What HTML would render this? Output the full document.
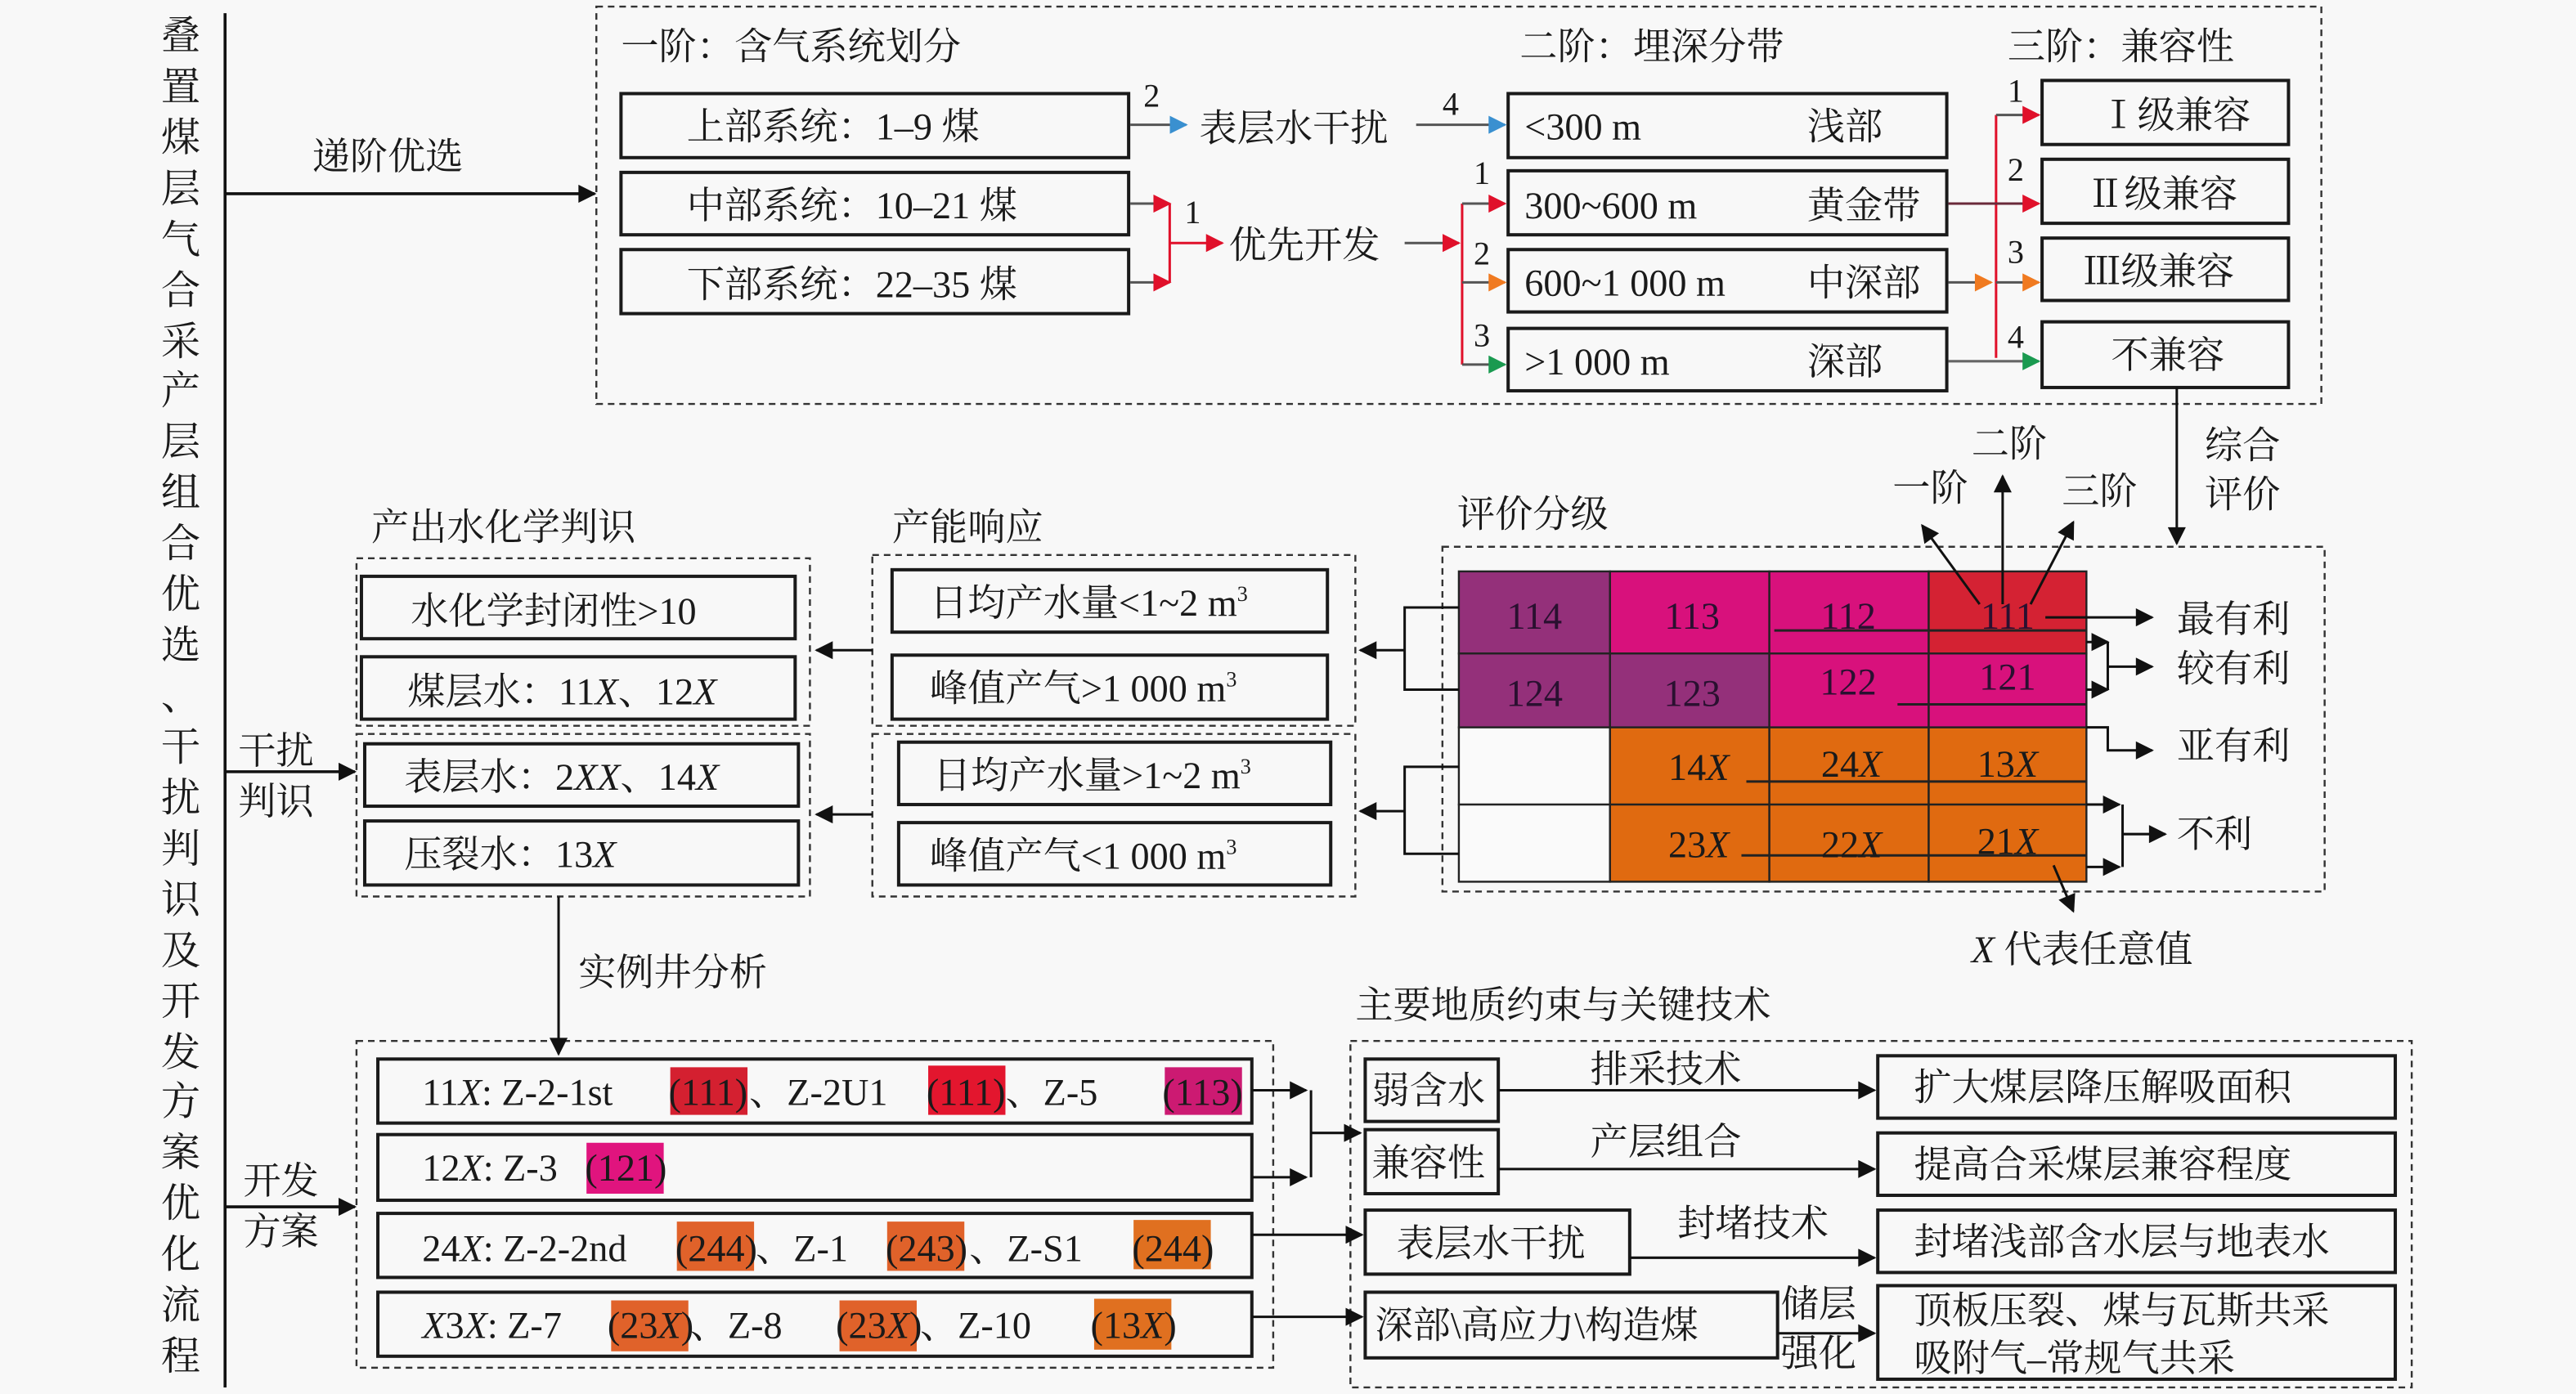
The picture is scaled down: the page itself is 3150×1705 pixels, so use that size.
<!DOCTYPE html>
<html><head><meta charset="utf-8"><style>
html,body{margin:0;padding:0;background:#f8f8f8}
svg{display:block}
text{font-family:"Liberation Serif","Noto Serif CJK SC",serif;fill:#1a1a1a}
</style></head><body>
<svg width="3150" height="1705" viewBox="0 0 1568 849" preserveAspectRatio="none" xmlns="http://www.w3.org/2000/svg">
<defs>
<marker id="kb" viewBox="0 0 10 10" refX="9" refY="5" markerWidth="13" markerHeight="11" orient="auto" markerUnits="userSpaceOnUse"><path d="M0,0L10,5L0,10z" fill="#111"/></marker>
<marker id="r" viewBox="0 0 10 10" refX="9" refY="5" markerWidth="12" markerHeight="11" orient="auto" markerUnits="userSpaceOnUse"><path d="M0,0L10,5L0,10z" fill="#e0102a"/></marker>
<marker id="o" viewBox="0 0 10 10" refX="9" refY="5" markerWidth="12" markerHeight="11" orient="auto" markerUnits="userSpaceOnUse"><path d="M0,0L10,5L0,10z" fill="#f07a20"/></marker>
<marker id="g" viewBox="0 0 10 10" refX="9" refY="5" markerWidth="12" markerHeight="11" orient="auto" markerUnits="userSpaceOnUse"><path d="M0,0L10,5L0,10z" fill="#1a9a50"/></marker>
<marker id="b" viewBox="0 0 10 10" refX="9" refY="5" markerWidth="12" markerHeight="11" orient="auto" markerUnits="userSpaceOnUse"><path d="M0,0L10,5L0,10z" fill="#3a90d0"/></marker>
</defs>
<rect width="1568" height="849" fill="#f8f8f8"/>

<g font-size="24" text-anchor="middle">
<text x="110" y="30">叠</text><text x="110" y="61">置</text><text x="110" y="92">煤</text><text x="110" y="123">层</text><text x="110" y="154">气</text><text x="110" y="185">合</text><text x="110" y="216">采</text><text x="110" y="246">产</text><text x="110" y="277">层</text><text x="110" y="308">组</text><text x="110" y="339">合</text><text x="110" y="370">优</text><text x="110" y="401">选</text><text x="110" y="432">、</text><text x="110" y="463">干</text><text x="110" y="494">扰</text><text x="110" y="525">判</text><text x="110" y="556">识</text><text x="110" y="587">及</text><text x="110" y="618">开</text><text x="110" y="649">发</text><text x="110" y="679">方</text><text x="110" y="710">案</text><text x="110" y="741">优</text><text x="110" y="772">化</text><text x="110" y="803">流</text><text x="110" y="834">程</text>
</g>
<g stroke="#111" stroke-width="1.8" fill="none">
<line x1="137" y1="8" x2="137" y2="845"/>
<line x1="137" y1="118" x2="362" y2="118" marker-end="url(#kb)"/>
<line x1="137" y1="470" x2="216" y2="470" marker-end="url(#kb)"/>
<line x1="137" y1="735" x2="216" y2="735" marker-end="url(#kb)"/>
</g>
<g font-size="23">
<text x="190" y="103">递阶优选</text>
<text x="145" y="465">干扰</text><text x="145" y="496">判识</text>
<text x="148" y="727">开发</text><text x="148" y="758">方案</text>
</g>

<g fill="none" stroke="#333" stroke-width="1.2" stroke-dasharray="4,3">
<rect x="363" y="4" width="1050" height="242"/>
<rect x="878" y="333" width="537" height="210"/>
<rect x="531" y="338" width="294" height="104"/>
<rect x="531" y="447" width="294" height="99"/>
<rect x="217" y="340" width="276" height="102"/>
<rect x="217" y="447" width="276" height="99"/>
<rect x="217" y="634" width="558" height="199"/>
<rect x="822" y="634" width="646" height="211"/>
</g>

<g fill="#f8f8f8" stroke="#1a1a1a" stroke-width="2">
<rect x="378" y="57" width="309" height="39"/><rect x="378" y="105" width="309" height="38"/><rect x="378" y="152" width="309" height="39"/>
<rect x="918" y="57" width="267" height="39"/><rect x="918" y="104" width="267" height="39"/><rect x="918" y="152" width="267" height="38"/><rect x="918" y="200" width="267" height="38"/>
<rect x="1243" y="49" width="150" height="39"/><rect x="1243" y="97" width="150" height="39"/><rect x="1243" y="145" width="150" height="38"/><rect x="1243" y="196" width="150" height="40"/>
<rect x="543" y="347" width="265" height="38"/><rect x="543" y="399" width="265" height="39"/><rect x="547" y="452" width="263" height="38"/><rect x="547" y="501" width="263" height="38"/>
<rect x="220" y="351" width="264" height="38"/><rect x="220" y="400" width="264" height="38"/><rect x="222" y="453" width="264" height="38"/><rect x="222" y="500" width="264" height="39"/>
<rect x="230" y="645" width="532" height="39"/><rect x="230" y="691" width="532" height="40"/><rect x="230" y="739" width="532" height="39"/><rect x="230" y="787" width="532" height="39"/>
<rect x="831" y="645" width="81" height="38"/><rect x="831" y="688" width="81" height="39"/><rect x="831" y="737" width="161" height="39"/><rect x="831" y="787" width="251" height="40"/>
<rect x="1143" y="643" width="315" height="38"/><rect x="1143" y="690" width="315" height="38"/><rect x="1143" y="737" width="315" height="38"/><rect x="1143" y="783" width="315" height="57"/>
</g>

<g font-size="23">
<text x="378" y="36">一阶：含气系统划分</text>
<text x="925" y="36">二阶：埋深分带</text>
<text x="1222" y="36">三阶：兼容性</text>
<text x="418" y="85">上部系统：1–9 煤</text>
<text x="418" y="133">中部系统：10–21 煤</text>
<text x="418" y="181">下部系统：22–35 煤</text>
<text x="730" y="86">表层水干扰</text>
<text x="748" y="157">优先开发</text>
<text x="928" y="85">&lt;300 m</text><text x="1100" y="85">浅部</text>
<text x="928" y="133">300~600 m</text><text x="1100" y="133">黄金带</text>
<text x="928" y="180">600~1 000 m</text><text x="1100" y="180">中深部</text>
<text x="928" y="228">&gt;1 000 m</text><text x="1100" y="228">深部</text>
<text x="1278" y="78">Ⅰ级兼容</text>
<text x="1270" y="126">Ⅱ级兼容</text>
<text x="1268" y="173">Ⅲ级兼容</text>
<text x="1285" y="224">不兼容</text>
</g>
<g font-size="20">
<text x="696" y="65">2</text><text x="878" y="70">4</text><text x="721" y="136">1</text>
<text x="897" y="112">1</text><text x="897" y="161">2</text><text x="897" y="211">3</text>
<text x="1222" y="62">1</text><text x="1222" y="110">2</text><text x="1222" y="160">3</text><text x="1222" y="212">4</text>
</g>
<g stroke-width="1.5" fill="none">
<line x1="688" y1="76" x2="722" y2="76" stroke="#555" marker-end="url(#b)"/>
<line x1="862" y1="76" x2="916" y2="76" stroke="#555" marker-end="url(#b)"/>
<line x1="688" y1="124" x2="712" y2="124" stroke="#555" marker-end="url(#r)"/>
<line x1="688" y1="172" x2="712" y2="172" stroke="#555" marker-end="url(#r)"/>
<path d="M712,124V172M712,148H744" stroke="#e0102a" marker-end="url(#r)"/>
<line x1="855" y1="148" x2="888" y2="148" stroke="#555" marker-end="url(#r)"/>
<path d="M890,124V222" stroke="#e0102a"/>
<line x1="890" y1="124" x2="916" y2="124" stroke="#555" marker-end="url(#r)"/>
<line x1="890" y1="172" x2="916" y2="172" stroke="#555" marker-end="url(#o)"/>
<line x1="890" y1="222" x2="916" y2="222" stroke="#555" marker-end="url(#g)"/>
<path d="M1215,70V218" stroke="#e0102a"/>
<line x1="1215" y1="70" x2="1241" y2="70" stroke="#555" marker-end="url(#r)"/>
<line x1="1186" y1="124" x2="1241" y2="124" stroke="#6a2a3a" marker-end="url(#r)"/>
<line x1="1186" y1="172" x2="1212" y2="172" stroke="#555" marker-end="url(#o)"/>
<line x1="1215" y1="172" x2="1241" y2="172" stroke="#555" marker-end="url(#o)"/>
<line x1="1186" y1="220" x2="1241" y2="220" stroke="#666" marker-end="url(#g)"/>
<line x1="1325" y1="236" x2="1325" y2="331" stroke="#111" marker-end="url(#kb)"/>
</g>
<g font-size="23"><text x="1342" y="279">综合</text><text x="1342" y="309">评价</text></g>

<g stroke="#222" stroke-width="1.2">
<rect x="888" y="348" width="92" height="50" fill="#94307a"/>
<rect x="888" y="398" width="92" height="45" fill="#94307a"/>
<rect x="980" y="348" width="97" height="50" fill="#d8117c"/>
<rect x="980" y="398" width="97" height="45" fill="#94307a"/>
<rect x="1077" y="348" width="97" height="50" fill="#d8117c"/>
<rect x="1077" y="398" width="97" height="45" fill="#d8117c"/>
<rect x="1174" y="348" width="96" height="50" fill="#d42233"/>
<rect x="1174" y="398" width="96" height="45" fill="#d8117c"/>
<rect x="888" y="443" width="92" height="47" fill="#fafafa"/>
<rect x="888" y="490" width="92" height="47" fill="#fafafa"/>
<rect x="980" y="443" width="97" height="47" fill="#e06a10"/>
<rect x="1077" y="443" width="97" height="47" fill="#e06a10"/>
<rect x="1174" y="443" width="96" height="47" fill="#e06a10"/>
<rect x="980" y="490" width="97" height="47" fill="#e06a10"/>
<rect x="1077" y="490" width="97" height="47" fill="#e06a10"/>
<rect x="1174" y="490" width="96" height="47" fill="#e06a10"/>
</g>
<g stroke="#222" stroke-width="1.5" fill="none">
<line x1="1080" y1="384" x2="1270" y2="384"/><line x1="1155" y1="429" x2="1270" y2="429"/>
<line x1="1063" y1="476" x2="1270" y2="476"/><line x1="1060" y1="521" x2="1270" y2="521"/>
</g>
<g font-size="23" text-anchor="middle">
<text x="934" y="383" style="fill:#2a1030">114</text><text x="1030" y="383" style="fill:#2a1030">113</text><text x="1125" y="383" style="fill:#2a1030">112</text><text x="1222" y="383" style="fill:#2a1030">111</text>
<text x="934" y="430" style="fill:#2a1030">124</text><text x="1030" y="430" style="fill:#2a1030">123</text><text x="1125" y="423" style="fill:#2a1030">122</text><text x="1222" y="420" style="fill:#2a1030">121</text>
<text x="1034" y="475">14<tspan font-style="italic">X</tspan></text><text x="1127" y="473">24<tspan font-style="italic">X</tspan></text><text x="1222" y="473">13<tspan font-style="italic">X</tspan></text>
<text x="1034" y="522">23<tspan font-style="italic">X</tspan></text><text x="1127" y="522">22<tspan font-style="italic">X</tspan></text><text x="1222" y="520">21<tspan font-style="italic">X</tspan></text>
</g>
<g stroke="#111" stroke-width="1.5" fill="none">
<line x1="1205" y1="368" x2="1170" y2="320" marker-end="url(#kb)"/>
<line x1="1219" y1="368" x2="1219" y2="290" marker-end="url(#kb)"/>
<line x1="1236" y1="368" x2="1262" y2="318" marker-end="url(#kb)"/>
<line x1="1245" y1="376" x2="1310" y2="376" marker-end="url(#kb)"/>
<line x1="1270" y1="391" x2="1283" y2="391" marker-end="url(#kb)"/>
<line x1="1270" y1="420" x2="1283" y2="420" marker-end="url(#kb)"/>
<path d="M1283,391V420M1283,406H1310" marker-end="url(#kb)"/>
<path d="M1270,443H1283V457H1310" marker-end="url(#kb)"/>
<line x1="1270" y1="490" x2="1290" y2="490" marker-end="url(#kb)"/>
<line x1="1270" y1="528" x2="1290" y2="528" marker-end="url(#kb)"/>
<path d="M1292,490V528M1292,508H1318" marker-end="url(#kb)"/>
<line x1="1250" y1="527" x2="1262" y2="555" marker-end="url(#kb)"/>
<path d="M888,370H855V420H888M855,396H828" marker-end="url(#kb)"/>
<path d="M888,467H855V520H888M855,494H828" marker-end="url(#kb)"/>
<line x1="531" y1="396" x2="497" y2="396" marker-end="url(#kb)"/>
<line x1="531" y1="496" x2="497" y2="496" marker-end="url(#kb)"/>
<line x1="340" y1="546" x2="340" y2="642" marker-end="url(#kb)"/>
</g>
<g font-size="23">
<text x="887" y="321">评价分级</text>
<text x="1200" y="278">二阶</text><text x="1152" y="305">一阶</text><text x="1255" y="307">三阶</text>
<text x="1325" y="385">最有利</text><text x="1325" y="415">较有利</text><text x="1325" y="462">亚有利</text><text x="1325" y="516">不利</text>
<text x="1200" y="586"><tspan font-style="italic">X</tspan> 代表任意值</text>
<text x="543" y="329">产能响应</text>
<text x="226" y="329">产出水化学判识</text>
<text x="566" y="375">日均产水量&lt;1~2 m<tspan font-size="13" dy="-9">3</tspan></text>
<text x="566" y="427">峰值产气&gt;1 000 m<tspan font-size="13" dy="-9">3</tspan></text>
<text x="568" y="480">日均产水量&gt;1~2 m<tspan font-size="13" dy="-9">3</tspan></text>
<text x="566" y="529">峰值产气&lt;1 000 m<tspan font-size="13" dy="-9">3</tspan></text>
<text x="250" y="380">水化学封闭性&gt;10</text>
<text x="248" y="429">煤层水：11<tspan font-style="italic">X</tspan>、12<tspan font-style="italic">X</tspan></text>
<text x="246" y="481">表层水：2<tspan font-style="italic">XX</tspan>、14<tspan font-style="italic">X</tspan></text>
<text x="246" y="528">压裂水：13<tspan font-style="italic">X</tspan></text>
<text x="352" y="600">实例井分析</text>
</g>

<!-- bottom left rows -->
<g stroke="none">
<rect x="408" y="650" width="47" height="29" fill="#d42030"/><rect x="565" y="649" width="47" height="30" fill="#e3162e"/><rect x="709" y="650" width="47" height="29" fill="#cc1a72"/>
<rect x="357" y="696" width="47" height="31" fill="#e0147e"/>
<rect x="412" y="744" width="47" height="30" fill="#e0622a"/><rect x="540" y="744" width="47" height="30" fill="#e0622a"/><rect x="690" y="743" width="47" height="30" fill="#e07020"/>
<rect x="372" y="792" width="47" height="31" fill="#e0622a"/><rect x="511" y="792" width="47" height="31" fill="#e0622a"/><rect x="666" y="791" width="47" height="31" fill="#e07020"/>
</g>
<g font-size="23">
<text x="257" y="673">11<tspan font-style="italic">X</tspan>: Z-2-1st</text>
<text x="431" y="673" text-anchor="middle">(111)</text>
<text x="456" y="673">、Z-2U1</text>
<text x="588" y="673" text-anchor="middle">(111)</text>
<text x="612" y="673">、Z-5</text>
<text x="732" y="673" text-anchor="middle">(113)</text>
<text x="257" y="719">12<tspan font-style="italic">X</tspan>: Z-3</text>
<text x="381" y="719" text-anchor="middle">(121)</text>
<text x="257" y="768">24<tspan font-style="italic">X</tspan>: Z-2-2nd</text>
<text x="436" y="768" text-anchor="middle">(244)</text>
<text x="460" y="768">、Z-1</text>
<text x="564" y="768" text-anchor="middle">(243)</text>
<text x="590" y="768">、Z-S1</text>
<text x="714" y="768" text-anchor="middle">(244)</text>
<text x="257" y="815"><tspan font-style="italic">X</tspan>3<tspan font-style="italic">X</tspan>: Z-7</text>
<text x="396" y="815" text-anchor="middle">(23<tspan font-style="italic">X</tspan>)</text>
<text x="420" y="815">、Z-8</text>
<text x="535" y="815" text-anchor="middle">(23<tspan font-style="italic">X</tspan>)</text>
<text x="560" y="815">、Z-10</text>
<text x="690" y="815" text-anchor="middle">(13<tspan font-style="italic">X</tspan>)</text>
</g>
<g stroke="#111" stroke-width="1.5" fill="none">
<line x1="762" y1="664" x2="795" y2="664" marker-end="url(#kb)"/>
<line x1="762" y1="717" x2="795" y2="717" marker-end="url(#kb)"/>
<path d="M798,664V717M798,690H828" marker-end="url(#kb)"/>
<line x1="762" y1="752" x2="829" y2="752" marker-end="url(#kb)"/>
<line x1="762" y1="802" x2="829" y2="802" marker-end="url(#kb)"/>
<line x1="912" y1="664" x2="1141" y2="664" marker-end="url(#kb)"/>
<line x1="912" y1="712" x2="1141" y2="712" marker-end="url(#kb)"/>
<line x1="992" y1="766" x2="1141" y2="766" marker-end="url(#kb)"/>
<line x1="1082" y1="812" x2="1141" y2="812" marker-end="url(#kb)"/>
</g>
<g font-size="23">
<text x="825" y="620">主要地质约束与关键技术</text>
<text x="835" y="672">弱含水</text><text x="835" y="716">兼容性</text>
<text x="850" y="765">表层水干扰</text><text x="837" y="815">深部\高应力\构造煤</text>
<text x="968" y="659">排采技术</text><text x="968" y="703">产层组合</text><text x="1021" y="753">封堵技术</text>
<text x="1084" y="802">储层</text><text x="1084" y="832">强化</text>
<text x="1165" y="670">扩大煤层降压解吸面积</text>
<text x="1165" y="717">提高合采煤层兼容程度</text>
<text x="1165" y="764">封堵浅部含水层与地表水</text>
<text x="1165" y="806">顶板压裂、煤与瓦斯共采</text>
<text x="1165" y="835">吸附气–常规气共采</text>
</g>
</svg>
</body></html>
